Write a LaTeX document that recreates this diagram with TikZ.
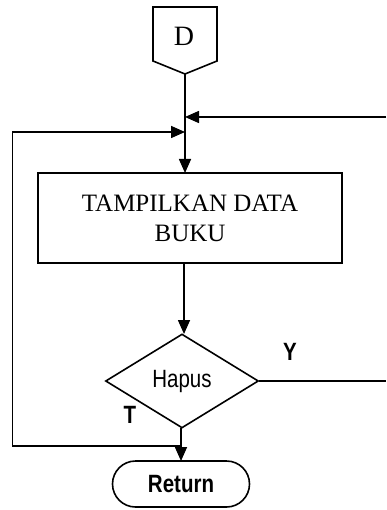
\documentclass[tikz,border=0pt]{standalone}
\usepackage{fontspec}
\setmainfont{Liberation Serif}
\newfontfamily\narrowfont{Liberation Sans}[FakeStretch=0.82]
\usetikzlibrary{shapes.geometric,arrows.meta}
\begin{document}
\begin{tikzpicture}[x=1pt,y=-1pt,
  line width=1.6pt,
  arr/.style={-{Triangle[length=14pt,width=12pt]}},
  procbox/.style={draw,rectangle,minimum width=304pt,minimum height=90pt,inner sep=0pt,align=center,font=\fontsize{25}{30}\selectfont},
  decbox/.style={draw,diamond,minimum width=153pt,minimum height=94pt,inner sep=0pt,font=\narrowfont\fontsize{25}{30}\selectfont},
  termbox/.style={draw,rectangle,rounded corners=23pt,minimum width=137pt,minimum height=46pt,inner sep=0pt,font=\narrowfont\bfseries\fontsize{25}{30}\selectfont},
  lbl/.style={font=\narrowfont\bfseries\fontsize{25}{30}\selectfont,inner sep=0pt}]
\useasboundingbox (0,0) rectangle (386,510);
% off-page connector D
\draw (153,7) -- (217,7) -- (217,61) -- (185,74) -- (153,61) -- cycle;
\node[font=\fontsize{28}{30}\selectfont,inner sep=0pt] (d) at (184,36) {D};
\coordinate (dtip) at (185,74);
% process box
\node[procbox] (box) at (190,218) {TAMPILKAN DATA\\BUKU};
% decision
\node[decbox] (dec) at (182,381) {\raisebox{5pt}{Hapus}};
% terminator
\node[termbox] (ret) at (181,484) {Return};
% labels
\node[lbl] (y) at (290,352) {Y};
\node[lbl] (t) at (130,415) {T};
% junctions
\coordinate (jr) at (185,117);
\coordinate (jl) at (185,132);
\coordinate (rin) at (386,117);
\coordinate (yout) at (386,381);
\coordinate (jb) at (181,446);
\coordinate (lb) at (12.5,446);
\coordinate (lt) at (12.5,132);
\coordinate (boxin) at (185,173);
\coordinate (boxout) at (184,263);
\coordinate (decin) at (184,334);
\coordinate (decout) at (181,428);
\coordinate (retin) at (181,461);
% connectors
\draw[arr] (dtip) -- (boxin);
\draw[arr] (rin) -- (jr);
\draw[arr] (jb) -- (lb) -- (lt) -- (jl);
\draw[arr] (boxout) -- (decin);
\draw (dec.east) -- (dec.east -| yout);
\draw[arr] (decout) -- (retin);
\end{tikzpicture}
\end{document}
